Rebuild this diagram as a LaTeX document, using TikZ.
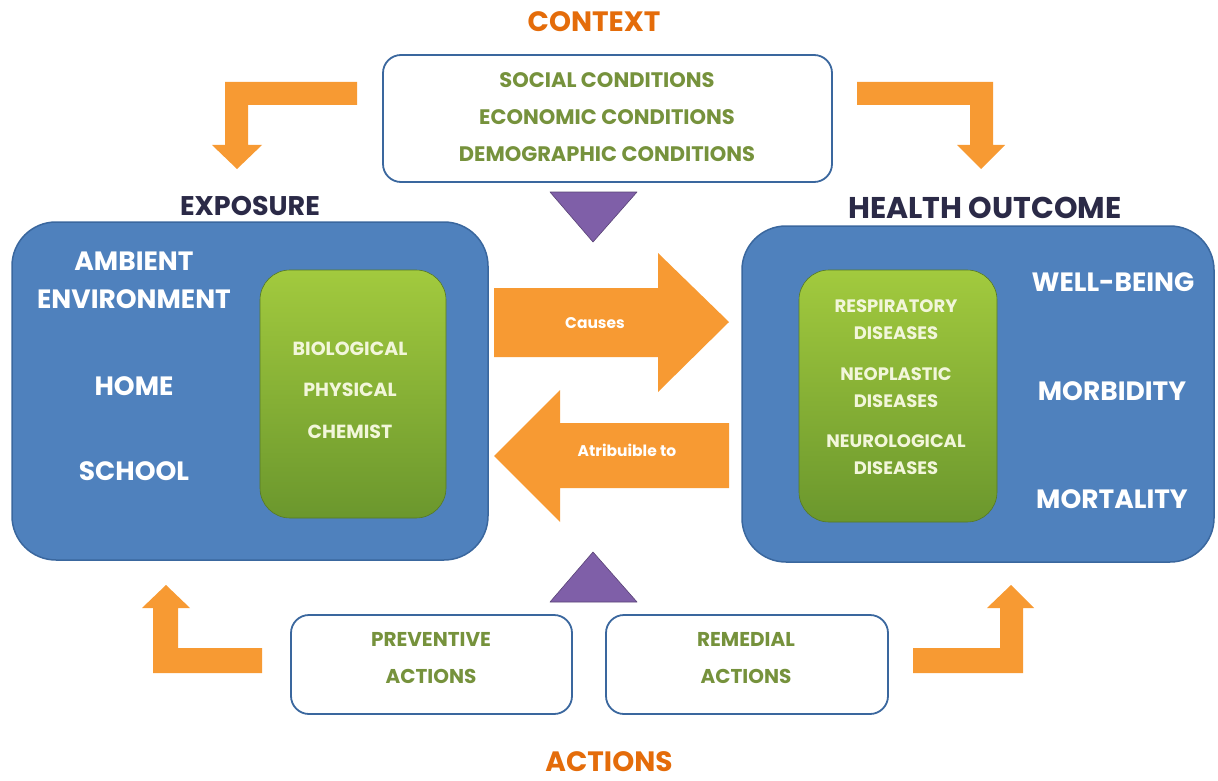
\documentclass[tikz,border=0pt]{standalone}
\usepackage{fontspec}
\setmainfont{Poppins}
\usetikzlibrary{positioning}

\definecolor{ppblue}{HTML}{4F81BD}
\definecolor{ppblueline}{HTML}{3A679E}
\definecolor{pporange}{HTML}{F79A33}
\definecolor{pptitle}{HTML}{E46C0A}
\definecolor{ppgreen}{HTML}{76923C}
\definecolor{ppgreentop}{HTML}{A2CA3E}
\definecolor{ppgreenbot}{HTML}{6B972D}
\definecolor{pppurple}{HTML}{7F5FA8}
\definecolor{ppnavy}{HTML}{2B2A47}
\definecolor{ppcream}{HTML}{F2F6DA}

\begin{document}
\begin{tikzpicture}[
     x = 1pt,
     y = -1pt,
     outline/.style = {draw=ppblueline, line width=1.8pt, fill=white, rounded corners=18pt},
     bluebox/.style = {draw=ppblueline, line width=1.5pt, fill=ppblue, rounded corners=44pt},
     greenbox/.style = {draw=ppgreenbot!80!black, line width=0.6pt, rounded corners=30pt,
                        top color=ppgreentop, bottom color=ppgreenbot},
     title/.style = {font=\bfseries\fontsize{28}{30}\selectfont, text=pptitle, inner sep=0pt},
     header/.style = {font=\bfseries\fontsize{27}{30}\selectfont, text=ppnavy},
     cond/.style = {font=\bfseries\fontsize{21}{24}\selectfont, text=ppgreen},
     action/.style = {font=\bfseries\fontsize{20}{37}\selectfont, text=ppgreen, align=center},
     place/.style = {font=\bfseries\fontsize{26.5}{30}\selectfont, text=white},
     agent/.style = {font=\bfseries\fontsize{19}{22}\selectfont, text=ppcream, align=center},
     disease/.style = {font=\bfseries\fontsize{18}{27}\selectfont, text=ppcream, align=center},
     arrowtext/.style = {font=\bfseries\fontsize{15.5}{18}\selectfont, text=white},
     blockarrow/.style = {fill=pporange},
     wedge/.style = {fill=pppurple, draw=pppurple!70!black, line width=0.6pt, line join=round}
    ]
    \useasboundingbox (0,0) rectangle (1218,781);

    % context on top
    \node[title] (context) at (594,22) {CONTEXT};
    \node[outline, minimum width=449pt, minimum height=127pt] (conditions) at (607.5,118.5) {};
    \node[cond] (social) at (607,80) {SOCIAL CONDITIONS};
    \node[cond] (economic) at (607,117) {ECONOMIC CONDITIONS};
    \node[cond] (demographic) at (607,154) {DEMOGRAPHIC CONDITIONS};

    % exposure side
    \node[header] (exposure) at (250,206) {EXPOSURE};
    \node[bluebox, minimum width=476pt, minimum height=338pt] (expbox) at (250,391) {};
    \node[place] (ambient) at (134,261) {AMBIENT};
    \node[place] (environment) at (134,299) {ENVIRONMENT};
    \node[place] (home) at (134,386) {HOME};
    \node[place] (school) at (134,471) {SCHOOL};
    \node[greenbox, minimum width=186pt, minimum height=248pt] (agents) at (353,394) {};
    \node[agent] (biological) at (350,349) {BIOLOGICAL};
    \node[agent] (physical) at (350,390) {PHYSICAL};
    \node[agent] (chemist) at (350,432) {CHEMIST};

    % health outcome side
    \node[header, font=\bfseries\fontsize{30}{32}\selectfont] (outcome) at (985,208) {HEALTH OUTCOME};
    \node[bluebox, minimum width=472pt, minimum height=336pt] (outbox) at (978,394) {};
    \node[greenbox, minimum width=198pt, minimum height=252pt] (diseases) at (898,396) {};
    \node[disease] (respiratory) at (896,320) {RESPIRATORY\\DISEASES};
    \node[disease] (neoplastic) at (896,388) {NEOPLASTIC\\DISEASES};
    \node[disease] (neurological) at (896,455) {NEUROLOGICAL\\DISEASES};
    \node[place] (wellbeing) at (1113,282) {WELL-BEING};
    \node[place] (morbidity) at (1112,391) {MORBIDITY};
    \node[place] (mortality) at (1112,499) {MORTALITY};

    % block arrows between the two sides
    \fill[blockarrow] (494,288) -- (658,288) -- (658,253) -- (729,322) -- (658,392)
                      -- (658,357) -- (494,357) -- cycle;
    \fill[blockarrow] (729,423) -- (560,423) -- (560,390) -- (494,456) -- (560,522)
                      -- (560,488) -- (729,488) -- cycle;
    \node[arrowtext] (causes) at (595,323) {Causes};
    \node[arrowtext] (attrib) at (627,450) {Atribuible to};

    % bent arrows from context
    \fill[blockarrow] (357,82) -- (225,82) -- (225,145) -- (212,145) -- (237,169) -- (262,145)
                      -- (248,145) -- (248,105) -- (357,105) -- cycle;
    \fill[blockarrow] (857,82) -- (993,82) -- (993,145) -- (1005,145) -- (981,169) -- (957,145)
                      -- (970,145) -- (970,105) -- (857,105) -- cycle;

    % purple wedges
    \filldraw[wedge] (550,192) -- (637,192) -- (593,242) -- cycle;
    \filldraw[wedge] (550,602) -- (637,602) -- (593,552) -- cycle;

    % actions below
    \node[outline, minimum width=281pt, minimum height=99pt] (preventive) at (431.5,664.5) {};
    \node[action] (prevtext) at (431,658) {PREVENTIVE\\ACTIONS};
    \node[outline, minimum width=282pt, minimum height=99pt] (remedial) at (747,664.5) {};
    \node[action] (remtext) at (746,658) {REMEDIAL\\ACTIONS};
    \node[title] (actions) at (609,762) {ACTIONS};

    % bent arrows up from actions
    \fill[blockarrow] (262,648) -- (178,648) -- (178,608) -- (190,608) -- (166,585) -- (142,608)
                      -- (153,608) -- (153,673) -- (262,673) -- cycle;
    \fill[blockarrow] (913,648) -- (1000,648) -- (1000,608) -- (987,608) -- (1011,585) -- (1034,608)
                      -- (1023,608) -- (1023,673) -- (913,673) -- cycle;
\end{tikzpicture}
\end{document}
